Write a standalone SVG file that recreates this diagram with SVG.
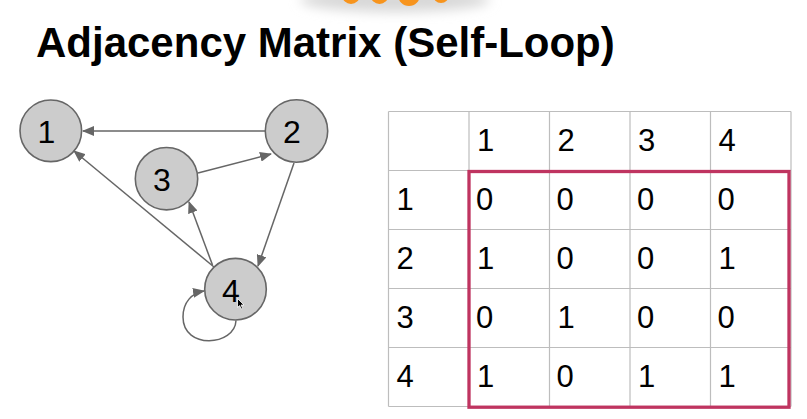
<svg xmlns="http://www.w3.org/2000/svg" width="807" height="419" viewBox="0 0 807 419">
<style>
.title{font-family:"Liberation Sans",Arial,sans-serif;font-weight:bold;font-size:42px;fill:#000}
.node circle{fill:#cccccc;stroke:#666666;stroke-width:1.6}
.node text{font-family:"Liberation Sans",Arial,sans-serif;font-size:32px;fill:#000;text-anchor:middle}
.edge{fill:none;stroke:#666666;stroke-width:1.5;marker-end:url(#arr)}
.grid line{stroke:#bdbdbd;stroke-width:1.2}
.cell{font-family:"Liberation Sans",Arial,sans-serif;font-size:31px;fill:#000}
.dot{fill:#f7941d}
</style>
<defs>
<marker id="arr" markerWidth="12" markerHeight="10" refX="11" refY="5" orient="auto" markerUnits="userSpaceOnUse">
<path d="M0,0 L12,5 L0,10 Z" fill="#666666"/>
</marker>
<filter id="blur" x="-50%" y="-50%" width="200%" height="200%"><feGaussianBlur stdDeviation="6"/></filter>
</defs>
<rect width="807" height="419" fill="#ffffff"/>
<g id="toolbar">
<ellipse cx="395" cy="0" rx="95" ry="12" fill="#d8d8d8" filter="url(#blur)"/>
<circle class="dot" cx="351" cy="-5" r="9"/>
<circle class="dot" cx="379.5" cy="-5" r="9"/>
<circle class="dot" cx="409" cy="-5" r="11"/>
<circle class="dot" cx="441" cy="-5" r="8"/>
</g>
<text class="title" x="36" y="57">Adjacency Matrix (Self-Loop)</text>
<g id="connectors">
<line class="edge" x1="265" y1="131" x2="83" y2="131"/>
<line class="edge" x1="198" y1="173" x2="271" y2="154"/>
<line class="edge" x1="294" y1="163" x2="258" y2="266"/>
<line class="edge" x1="214" y1="267" x2="74" y2="151"/>
<line class="edge" x1="212.5" y1="265" x2="189" y2="202"/>
<path class="edge" d="M236,320.5 C235,346 183,350 183,317 C183,302 192,293 204,291"/>
</g>
<g id="node1" class="node"><circle cx="50.8" cy="130.8" r="30.8"/><text x="46.3" y="142.8">1</text></g>
<g id="node2" class="node"><circle cx="296.5" cy="131" r="31.2"/><text x="292" y="143.3">2</text></g>
<g id="node3" class="node"><circle cx="166.5" cy="178.7" r="31.2"/><text x="162" y="191">3</text></g>
<g id="node4" class="node"><circle cx="235.5" cy="289.2" r="30.8"/><text x="231" y="301.7">4</text></g>
<g id="cursor"><path d="M237.5,298.5 L237.5,307.5 L239.6,305.6 L241.2,309 L242.6,308.3 L241.1,305 L244,305 Z" fill="#000" stroke="#fff" stroke-width="0.8"/></g>
<g id="matrix">
<g class="grid">
<line x1="388.5" y1="111.5" x2="791" y2="111.5"/>
<line x1="388.5" y1="170.5" x2="791" y2="170.5"/>
<line x1="388.5" y1="229.5" x2="791" y2="229.5"/>
<line x1="388.5" y1="288.5" x2="791" y2="288.5"/>
<line x1="388.5" y1="347.5" x2="791" y2="347.5"/>
<line x1="388.5" y1="406.5" x2="791" y2="406.5"/>
<line x1="388.5" y1="111.5" x2="388.5" y2="406.5"/>
<line x1="469" y1="111.5" x2="469" y2="406.5"/>
<line x1="549.5" y1="111.5" x2="549.5" y2="406.5"/>
<line x1="630" y1="111.5" x2="630" y2="406.5"/>
<line x1="710.5" y1="111.5" x2="710.5" y2="406.5"/>
<line x1="791" y1="111.5" x2="791" y2="406.5"/>
</g>
<g class="cell">
<text x="477" y="151">1</text><text x="557.5" y="151">2</text><text x="638" y="151">3</text><text x="718.5" y="151">4</text>
<text x="396.5" y="210.3">1</text><text x="476" y="210.3">0</text><text x="556.5" y="210.3">0</text><text x="637" y="210.3">0</text><text x="717.5" y="210.3">0</text>
<text x="396.5" y="269.3">2</text><text x="477" y="269.3">1</text><text x="556.5" y="269.3">0</text><text x="637" y="269.3">0</text><text x="718.5" y="269.3">1</text>
<text x="396.5" y="328.3">3</text><text x="476" y="328.3">0</text><text x="557.5" y="328.3">1</text><text x="637" y="328.3">0</text><text x="717.5" y="328.3">0</text>
<text x="396.5" y="387.3">4</text><text x="477" y="387.3">1</text><text x="556.5" y="387.3">0</text><text x="638" y="387.3">1</text><text x="718.5" y="387.3">1</text>
</g>
<rect x="469" y="171.5" width="320" height="235.7" fill="none" stroke="#bf3460" stroke-width="3.3"/>
</g>
</svg>
